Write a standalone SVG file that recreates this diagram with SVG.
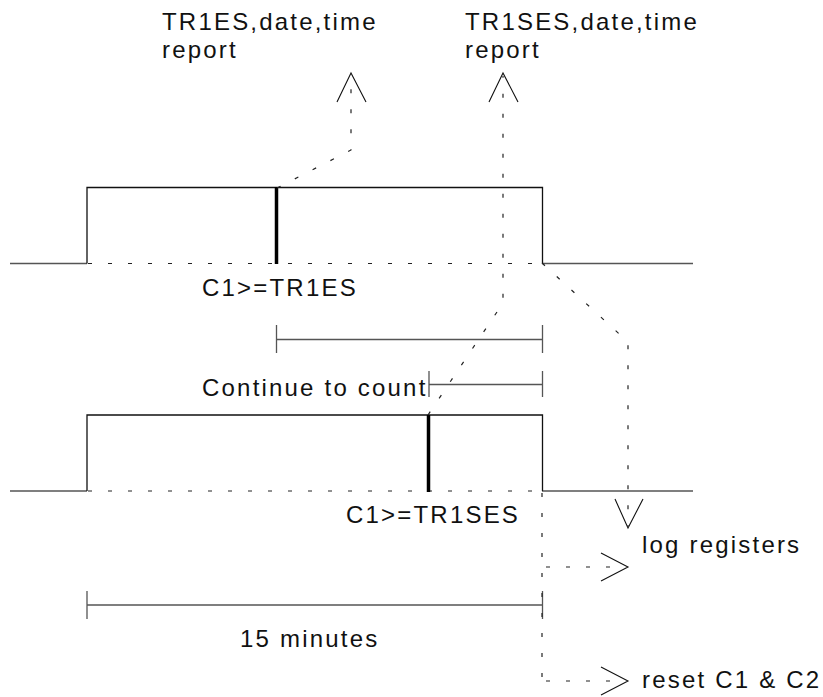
<svg xmlns="http://www.w3.org/2000/svg" width="823" height="697" viewBox="0 0 823 697">
<style>
text{font-family:"Liberation Sans",Arial,sans-serif;font-size:24px;letter-spacing:2.2px;fill:#111}
.s{stroke:#111;stroke-width:1.3;fill:none}
.g{stroke:#555;stroke-width:1.3;fill:none}
.k{stroke:#000;stroke-width:3.5;fill:none}
.d{stroke:#222;stroke-width:1.2;fill:none;stroke-dasharray:4 16}
.a{stroke:#111;stroke-width:1.1;fill:none}
</style>
<rect width="823" height="697" fill="#fff"/>
<g id="pulse1">
<path class="g" d="M10 263.5H87M542 263.5H693"/>
<path class="s" d="M87 263.5V187.5H542.5V263.5"/>
<path class="d" d="M88 263.5H542"/>
<line class="k" x1="276.5" y1="187" x2="276.5" y2="264"/>
<text x="202" y="296">C1&gt;=TR1ES</text>
</g>
<g id="pulse2">
<path class="g" d="M10 491H87M542 491H693"/>
<path class="s" d="M87 491V415H542.5V491"/>
<path class="d" d="M88 491H542"/>
<line class="k" x1="428.5" y1="415" x2="428.5" y2="492"/>
<text x="346" y="523">C1&gt;=TR1SES</text>
</g>
<g id="dim1">
<path class="g" d="M276.5 339.5H542.5M276.5 325V353M542.5 325V353"/>
</g>
<g id="dim2">
<path class="g" d="M429 384.5H542.5M429 371V397M542.5 371V397"/>
<text x="202" y="396">Continue to count</text>
</g>
<g id="dim3">
<path class="g" d="M87 605H542.5M87 591V619M542.5 591V619"/>
<text x="240" y="647">15 minutes</text>
</g>
<g id="report1">
<text x="162" y="30">TR1ES,date,time</text>
<text x="162" y="58">report</text>
</g>
<g id="report2">
<text x="465" y="30">TR1SES,date,time</text>
<text x="465" y="58">report</text>
</g>
<g id="log">
<text x="642" y="553">log registers</text>
</g>
<g id="reset">
<text x="642" y="688">reset C1 &amp; C2</text>
</g>
<g id="connectors">
<path class="d" d="M277 188L351 150V76"/>
<path class="a" d="M337 102L351 73L366 102"/>
<path class="d" d="M428 415L503 303V76"/>
<path class="a" d="M489 102L503 73L518 102"/>
<path class="d" d="M542 263L628 342V526"/>
<path class="a" d="M615 499L628 528L643 499"/>
<path class="d" d="M542 493V681"/>
<path class="d" d="M546 567H626M546 681H626"/>
<path class="a" d="M601 553L628 567L601 581"/>
<path class="a" d="M601 667L628 681L601 695"/>
</g>
</svg>
